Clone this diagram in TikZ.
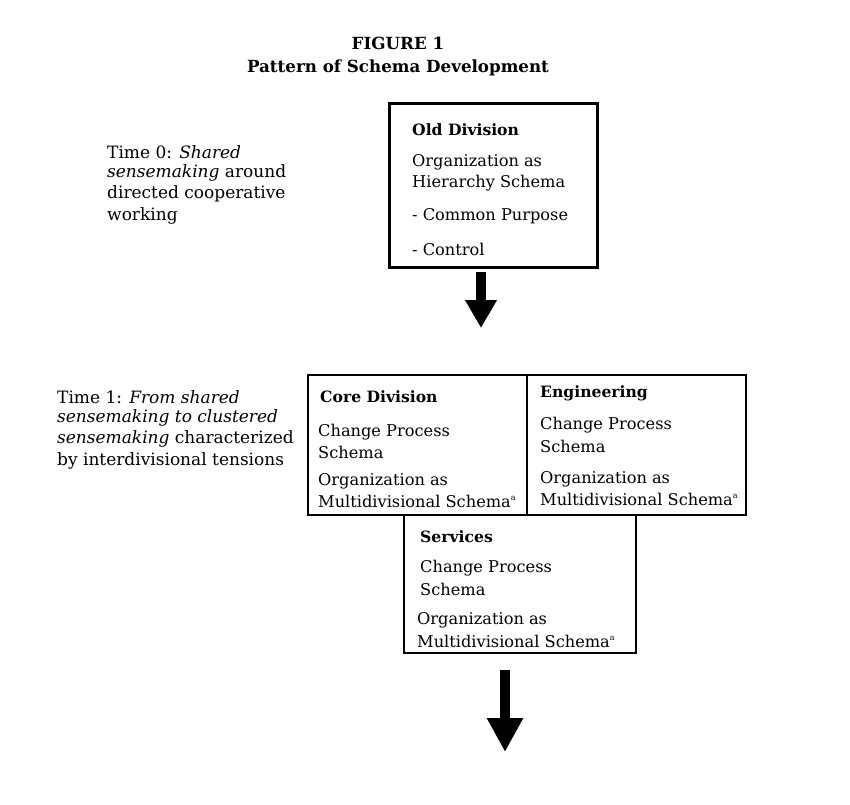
\documentclass[tikz,border=0pt]{standalone}
\usepackage{fontspec}
\setmainfont{DejaVu Serif}
\usetikzlibrary{arrows.meta}
\tikzset{
  txt/.style={anchor=west, inner sep=0pt, font=\fontsize{16.2}{19}\selectfont},
  hd/.style={txt, font=\fontsize{15.6}{19}\selectfont\bfseries},
  lbl/.style={anchor=west, inner sep=0pt, font=\fontsize{17}{20}\selectfont},
  bigbox/.style={draw, line width=3pt, inner sep=0pt},
  divbox/.style={draw, line width=1.4pt, inner sep=0pt},
  bigarrow/.style={line width=10pt, -{Triangle[width=30pt,length=28pt]}},
}
\newcommand{\supa}{\textsuperscript{\fontsize{8}{8}\selectfont a}}
\begin{document}
\begin{tikzpicture}[x=1pt,y=-1pt]
\useasboundingbox (0,0) rectangle (850,804);
\fill[white] (0,0) rectangle (850,804);
% title
\node[font=\fontsize{16.7}{20}\selectfont\bfseries] (t1) at (398,43) {FIGURE 1};
\node[font=\fontsize{16.7}{20}\selectfont\bfseries] (t2) at (398,68) {Pattern of Schema Development};
% Old division
\node[bigbox, minimum width=208pt, minimum height=164pt] (old) at (493,185) {};
\node[hd] (oldh) at (412,130) {Old Division};
\node[txt] (o1) at (412,162) {Organization as};
\node[txt] (o2) at (412,183) {Hierarchy Schema};
\node[txt] (o3) at (412,216) {- Common Purpose};
\node[txt] (o4) at (412,249) {- Control};
% Time 0
\node[lbl] (tz1) at (107,152) {Time 0: \textit{Shared}};
\node[lbl] (tz2) at (107,173) {\textit{sensemaking} around};
\node[lbl] (tz3) at (107,194) {directed cooperative};
\node[lbl] (tz4) at (107,216) {working};
% Core / Engineering / Services
\node[divbox, minimum width=219pt, minimum height=140pt] (core) at (417.5,445) {};
\node[divbox, minimum width=219pt, minimum height=140pt] (eng) at (636.5,445) {};
\node[divbox, minimum width=232pt, minimum height=138pt] (serv) at (520,584) {};
\node[hd] (ch) at (320,397) {Core Division};
\node[txt] (c1) at (318,432) {Change Process};
\node[txt] (c2) at (318,452) {Schema};
\node[txt] (c3) at (318,481) {Organization as};
\node[txt] (c4) at (318,501) {Multidivisional Schema\supa};
\node[hd] (eh) at (540,393) {Engineering};
\node[txt] (e1) at (540,425) {Change Process};
\node[txt] (e2) at (540,446) {Schema};
\node[txt] (e3) at (540,479) {Organization as};
\node[txt] (e4) at (540,499) {Multidivisional Schema\supa};
\node[hd] (sh) at (420,537) {Services};
\node[txt] (s1) at (420,568) {Change Process};
\node[txt] (s2) at (420,589) {Schema};
\node[txt] (s3) at (417,620) {Organization as};
\node[txt] (s4) at (417,641) {Multidivisional Schema\supa};
% Time 1
\node[lbl] (to1) at (57,397) {Time 1: \textit{From shared}};
\node[lbl] (to2) at (57,418) {\textit{sensemaking to clustered}};
\node[lbl] (to3) at (57,439) {\textit{sensemaking} characterized};
\node[lbl] (to4) at (57,461) {by interdivisional tensions};
% arrows
\coordinate (a1s) at (481,272);
\coordinate (a1e) at (481,328);
\draw[bigarrow] (a1s) -- (a1e);
\coordinate (a2s) at (505,670);
\coordinate (a2e) at (505,752);
\draw[bigarrow, -{Triangle[width=34pt,length=34pt]}] (a2s) -- (a2e);
\end{tikzpicture}
\end{document}
